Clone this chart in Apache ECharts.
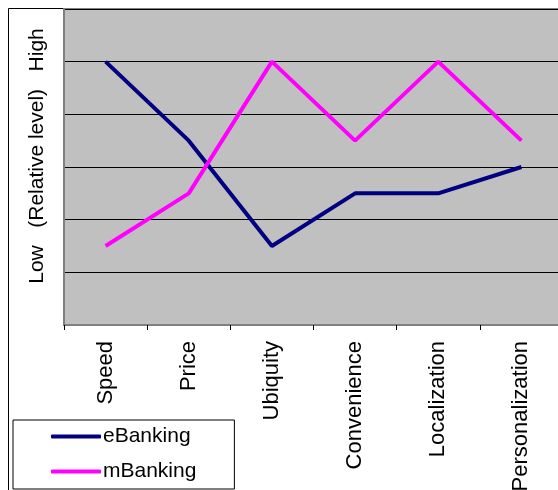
<!DOCTYPE html>
<html>
<head>
<meta charset="utf-8">
<script src="https://cdn.jsdelivr.net/npm/echarts@6/dist/echarts.min.js"></script>
<style>
  html, body { margin: 0; padding: 0; background: #fff; }
  #chart { width: 558px; height: 490px; }
</style>
</head>
<body>
<div id="chart"></div>
<script>
const categories = ['Speed', 'Price', 'Ubiquity', 'Convenience', 'Localization', 'Personalization'];
const eBanking = [5, 3.5, 1.5, 2.5, 2.5, 3];
const mBanking = [1.5, 2.5, 5, 3.5, 5, 3.5];
const yName = 'Low   (Relative level)   High';

const font = 'Liberation Sans, Arial, sans-serif';
const chart = echarts.init(document.getElementById('chart'));

const option = {
    animation: false,
    backgroundColor: '#fff',
    textStyle: {fontFamily: font},
    graphic: [
        {
            // outer chart border (only left/top visible in the crop)
            type: 'rect',
            z: -1,
            shape: {x: 8.5, y: 8.5, width: 700, height: 700},
            style: {fill: 'none', stroke: '#000', lineWidth: 1},
        },
    ],
    grid: {
        left: 64,
        top: 9,
        right: -5,
        bottom: 165,
        outerBoundsMode: 'none',
        containLabel: false,
        show: true,
        backgroundColor: '#c0c0c0',
        borderColor: '#808080',
        borderWidth: 2,
    },
    legend: {
        orient: 'vertical',
        left: 13,
        top: 420,
        padding: [6, 38, 7, 38],
        itemGap: 14,
        itemWidth: 50,
        itemHeight: 4,
        icon: 'roundRect',
        backgroundColor: '#fff',
        borderColor: '#000',
        borderWidth: 1,
        borderRadius: 0,
        textStyle: {fontFamily: font, fontSize: 21, color: '#000', padding: [0, 0, 0, -3]},
        data: ['eBanking', 'mBanking'],
    },
    xAxis: {
        type: 'category',
        data: categories,
        boundaryGap: true,
        axisLine: {lineStyle: {color: '#808080', width: 2}},
        axisTick: {show: true, length: 5, lineStyle: {color: '#000'}},
        axisLabel: {
            rotate: 90,
            margin: 16,
            fontFamily: font,
            fontSize: 22,
            color: '#000',
            interval: 0,
        },
        splitLine: {show: false},
    },
    yAxis: {
        type: 'value',
        min: 0,
        max: 6,
        interval: 1,
        name: yName,
        nameLocation: 'middle',
        nameRotate: 90,
        nameGap: 16,
        nameTextStyle: {fontFamily: font, fontSize: 21, color: '#000', padding: [0, 0, 0, 22]},
        axisLine: {show: true, lineStyle: {color: '#808080', width: 2}},
        axisTick: {show: false},
        axisLabel: {show: false},
        splitLine: {show: true, lineStyle: {color: '#000', width: 1}},
    },
    series: [
        {
            name: 'eBanking',
            type: 'line',
            data: eBanking,
            showSymbol: false,
            symbol: 'none',
            itemStyle: {color: '#000080'},
            lineStyle: {color: '#000080', width: 4},
        },
        {
            name: 'mBanking',
            type: 'line',
            data: mBanking,
            showSymbol: false,
            symbol: 'none',
            itemStyle: {color: '#ff00ff'},
            lineStyle: {color: '#ff00ff', width: 4},
        },
    ],
};

chart.setOption(option);
</script>
</body>
</html>
